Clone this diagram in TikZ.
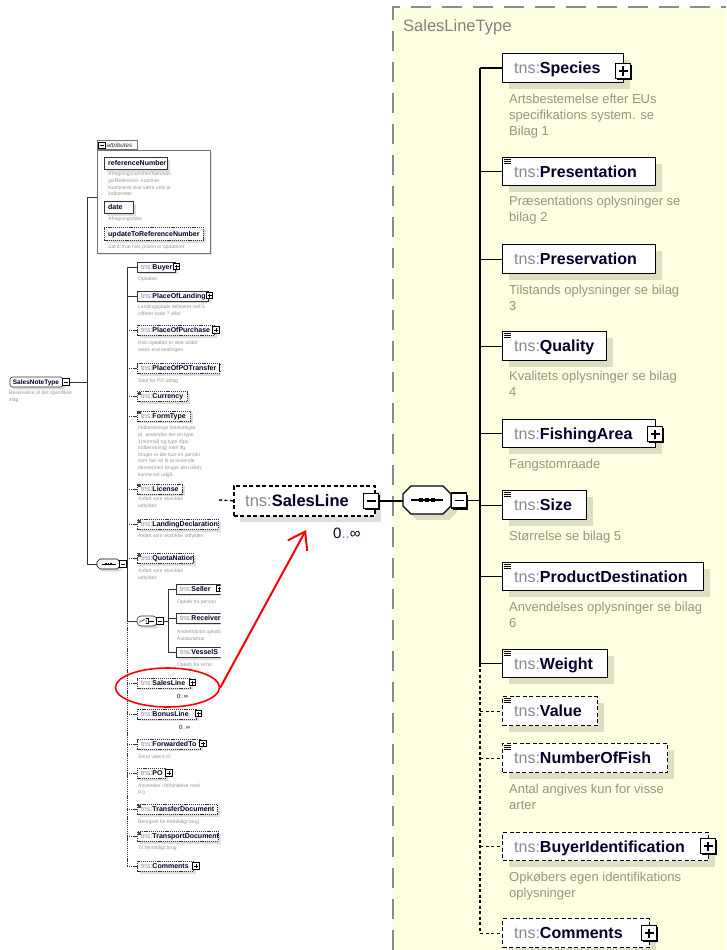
\documentclass[tikz,border=0pt]{standalone}
\usepackage{fontspec}
\setmainfont{Liberation Sans}
\usetikzlibrary{shadows,shapes.geometric,arrows.meta}
\definecolor{tnsc}{RGB}{135,135,150}
\definecolor{namec}{RGB}{0,0,40}
\definecolor{descc}{RGB}{150,150,125}
\definecolor{ldescc}{RGB}{150,150,150}
\definecolor{ybg}{RGB}{255,255,225}
\definecolor{ybord}{RGB}{140,140,140}
\definecolor{titc}{RGB}{128,128,128}
\newcommand\tnsn[1]{\textcolor{tnsc}{tns:}\textcolor{namec}{\textbf{#1}}}
% right element: name,x1,y1,x2,y2,style,label
\newcommand\RE[7]{%
  \node[#6, minimum width={(#4-#2)*1pt}, minimum height={(#5-#3)*1pt}] (#1) at (#2,#3) {};
  \node[rlbl] (#1t) at ([xshift=12pt]#1.west) {\tnsn{#7}};}
\newcommand\RIcon[1]{\draw[line width=0.8pt] ([shift={(2pt,-2pt)}]#1.north west) -- ++(7pt,0pt)
  ([shift={(2pt,-4.3pt)}]#1.north west) -- ++(7pt,0pt) ([shift={(2pt,-6.6pt)}]#1.north west) -- ++(7pt,0pt);}
\newcommand\RPlus[3]{\node[rplus] (#1) at (#2,#3) {};
  \draw[line width=1.3pt] ([xshift=-4.5pt]#1.center) -- ([xshift=4.5pt]#1.center)
  ([yshift=-4.5pt]#1.center) -- ([yshift=4.5pt]#1.center);}
\newcommand\RMinus[3]{\node[rplus] (#1) at (#2,#3) {};
  \draw[line width=1.3pt] ([xshift=-4.5pt]#1.center) -- ([xshift=4.5pt]#1.center);}
% left element
\newcommand\LE[7]{%
  \node[#6, minimum width={(#4-#2)*1pt}, minimum height={(#5-#3)*1pt}] (#1) at (#2,#3) {};
  \node[llbl] (#1t) at ([xshift=4pt]#1.west) {#7};}
\newcommand\LIcon[1]{\draw[line width=0.35pt, black!70] ([shift={(1pt,-0.8pt)}]#1.north west) -- ++(3pt,0pt)
  ([shift={(1pt,-1.8pt)}]#1.north west) -- ++(3pt,0pt) ([shift={(1pt,-2.8pt)}]#1.north west) -- ++(3pt,0pt);}
\newcommand\LPlus[3]{\node[lplus] (#1) at (#2,#3) {};
  \draw[line width=0.5pt] ([xshift=-2pt]#1.center) -- ([xshift=2pt]#1.center)
  ([yshift=-2pt]#1.center) -- ([yshift=2pt]#1.center);}
\newcommand\LMinus[3]{\node[lplus] (#1) at (#2,#3) {};
  \draw[line width=0.5pt] ([xshift=-2pt]#1.center) -- ([xshift=2pt]#1.center);}
\begin{document}
\begin{tikzpicture}[x=1pt,y=-1pt,
 rbox/.style={draw=black, line width=1.3pt, fill=white, anchor=north west, inner sep=0pt,
   drop shadow={shadow xshift=6pt, shadow yshift=-6pt, fill=black, opacity=0.13}},
 rboxd/.style={rbox, dash pattern=on 4pt off 2.5pt},
 rlbl/.style={anchor=west, inner sep=0pt, text height=11.5pt, text depth=0pt, font=\fontsize{16}{18}\selectfont},
 rdesc/.style={anchor=north west, inner sep=0pt, align=left, text=descc, font=\fontsize{13}{16}\selectfont},
 rplus/.style={draw=black, line width=1.4pt, fill=white, minimum size=15pt, inner sep=0pt,
   drop shadow={shadow xshift=1.5pt, shadow yshift=-1.5pt, fill=black, opacity=1}},
 lbox/.style={draw=black!80, line width=0.6pt, fill=white, anchor=north west, inner sep=0pt,
   drop shadow={shadow xshift=2.5pt, shadow yshift=-2.5pt, fill=black, opacity=0.13}},
 lboxd/.style={lbox, dash pattern=on 1.2pt off 0.9pt},
 llbl/.style={anchor=west, inner sep=0pt, text height=5pt, text depth=0pt, font=\fontsize{7}{8}\selectfont},
 ldesc/.style={anchor=north west, inner sep=0pt, align=left, text=ldescc, font=\fontsize{5}{6.6}\selectfont},
 lplus/.style={draw=black, line width=0.6pt, fill=white, minimum size=6.5pt, inner sep=0pt},
 bus/.style={line width=1.3pt, black},
 busd/.style={bus, dash pattern=on 3pt off 2.5pt},
 lbus/.style={line width=0.6pt, black!80},
 lbusd/.style={lbus, dash pattern=on 1.2pt off 0.9pt},
 occ/.style={anchor=west, inner sep=0pt}
]
\useasboundingbox (0,0) rectangle (726,950);
\fill[white] (0,0) rectangle (726,950);
% ---------- SalesLineType area ----------
\fill[ybg] (393,7) rectangle (726,950);
\draw[ybord, line width=1.3pt, dash pattern=on 20pt off 11pt] (393,950) -- (393,7) -- (726,7);
\node[anchor=west, inner sep=0pt, text=titc, font=\fontsize{16.5}{18}\selectfont, text height=11.8pt, text depth=0pt] (sltitle) at (403,26) {SalesLineType};

% sequence (right)
\node[minimum width=48pt, minimum height=28pt, inner sep=0pt] (seqR) at (427,500) {};
\fill[black, opacity=0.13] (417,492)--(449,492)--(457,500)--(457,512)--(449,520)--(417,520)--(409,512)--(409,500)--cycle;
\draw[line width=1.3pt, fill=white] (411,486)--(443,486)--(451,494)--(451,506)--(443,514)--(411,514)--(403,506)--(403,494)--cycle;
\draw[line width=1.2pt] ([xshift=-16pt]seqR.center) -- ([xshift=16pt]seqR.center);
\foreach \dx in {-6,0,6} \fill ([xshift=\dx pt]seqR.center) +(-2pt,-2pt) rectangle +(2pt,2pt);
\RMinus{seqRm}{459}{500.5}

% children (right)
\RE{species}{502}{53}{623}{82}{rbox}{Species}
\RPlus{speciesp}{623}{71}
\node[rdesc] (speciesd) at (509,92.2) {\strut Artsbestemelse efter EUs\\specifikations system. se\\Bilag 1};

\RE{pres}{502}{157}{655}{185}{rbox}{Presentation}\RIcon{pres}
\node[rdesc] (presd) at (509,194.2) {\strut Præsentations oplysninger se\\bilag 2};

\RE{presv}{502}{244}{655}{273}{rbox}{Preservation}
\node[rdesc] (presvd) at (509,283.2) {\strut Tilstands oplysninger se bilag\\3};

\RE{qual}{502}{331}{606}{360}{rbox}{Quality}\RIcon{qual}
\node[rdesc] (quald) at (509,369.2) {\strut Kvalitets oplysninger se bilag\\4};

\RE{fish}{502}{419}{655}{447}{rbox}{FishingArea}
\RPlus{fishp}{655}{434}
\node[rdesc] (fishd) at (509,457.2) {\strut Fangstomraade};

\RE{size}{502}{490}{586}{519}{rbox}{Size}\RIcon{size}
\node[rdesc] (sized) at (509,529.2) {\strut Størrelse se bilag 5};

\RE{prod}{502}{562}{703}{590}{rbox}{ProductDestination}\RIcon{prod}
\node[rdesc] (prodd) at (509,600.2) {\strut Anvendelses oplysninger se bilag\\6};

\RE{weight}{502}{649}{607}{677}{rbox}{Weight}\RIcon{weight}

\RE{value}{502}{696}{597}{725}{rboxd}{Value}\RIcon{value}

\RE{nof}{502}{743}{667}{772}{rboxd}{NumberOfFish}\RIcon{nof}
\node[rdesc] (nofd) at (509,782.2) {\strut Antal angives kun for visse\\arter};

\RE{buyid}{502}{832}{708}{860}{rboxd}{BuyerIdentification}
\RPlus{buyidp}{708}{846}
\node[rdesc] (buyidd) at (509,870.2) {\strut Opkøbers egen identifikations\\oplysninger};

\RE{comR}{502}{918}{649}{947}{rboxd}{Comments}
\RPlus{comRp}{649}{933}

% right bus
\coordinate (rbx) at (480,0);
\draw[bus] (seqRm.east) -- (seqRm.east -| rbx);
\draw[bus] (species.west -| rbx) -- (weight.west -| rbx);
\draw[busd] (weight.west -| rbx) -- (comR.west -| rbx);
\foreach \n in {species,pres,presv,qual,fish,size,prod,weight}
  \draw[bus] (\n.west -| rbx) -- (\n.west);
\foreach \n in {value,nof,buyid,comR}
  \draw[busd] (\n.west -| rbx) -- (\n.west);

% ---------- big SalesLine ----------
\node[rboxd, line width=1.5pt, minimum width=141pt, minimum height=30pt] (bigSL) at (233,485) {};
\node[anchor=west, inner sep=0pt, text height=12pt, text depth=0pt, font=\fontsize{16.5}{18}\selectfont] (bigSLt) at ([xshift=12pt]bigSL.west) {\tnsn{SalesLine}};
\RMinus{bigSLm}{371}{501}
\node[occ, font=\fontsize{15}{16}\selectfont] (bigocc) at (333,533) {\textcolor{namec}{0}\textcolor{tnsc}{..}\textcolor{namec}{∞}};
\coordinate (slIn) at (219,500);
\draw[busd] (slIn) -- (bigSL.west);
\draw[bus] (bigSLm.east) -- (bigSLm.east -| seqR.west);

% ---------- left overview ----------
\begin{scope}
\clip (0,0) rectangle (220.5,950);
% attributes
\node[draw=black!55, line width=0.6pt, fill=white, anchor=north west, minimum width=113pt, minimum height=103pt, inner sep=0pt,
  drop shadow={shadow xshift=2pt, shadow yshift=-2pt, fill=black, opacity=0.1}] (attr) at (97,150) {};
\node[draw=black!55, line width=0.6pt, fill=white, anchor=south west, minimum width=40pt, minimum height=9pt, inner sep=0pt] (attrtab) at (attr.north west) {};
\LMinus{attrm}{102}{145.5}
\node[anchor=west, inner sep=0pt, font=\fontsize{6.2}{7}\itshape, text=black!80] (attrt) at (106.5,145.5) {attributes};

\LE{refn}{104}{157}{167}{169}{lbox}{\textcolor{namec}{\textbf{referenceNumber}}}
\node[ldesc] (refnd) at (108,171.1) {\strut Afregningsnummer/fakturein\\gs/Reference- nummer.\\Nummeret skal være unik pr\\ indberetter};
\LE{datea}{104}{201}{133}{213}{lbox}{\textcolor{namec}{\textbf{date}}}
\node[ldesc] (dated) at (108,216.1) {\strut Afregningsdato};
\LE{upd}{104}{227}{203}{240}{lboxd}{\textcolor{namec}{\textbf{updateToReferenceNumber}}}
\node[ldesc] (updd) at (108,244.1) {\strut Sat til true hvis prisen er opdateret};

% SalesNoteType
\node[draw=black!80, line width=0.6pt, fill=white, rounded corners=2.5pt, minimum width=53pt, minimum height=10pt, inner sep=0pt,
  drop shadow={shadow xshift=2.5pt, shadow yshift=-2.5pt, fill=black, opacity=0.13}] (snt) at (36.5,382) {};
\node[llbl, font=\fontsize{6.5}{7}\selectfont] (sntt) at ([xshift=3pt]snt.west) {\textcolor{namec}{\textbf{SalesNoteType}}};
\LMinus{sntm}{66}{382}
\node[ldesc] (sntd) at (9,390.1) {\strut Beskrivelse af det specifikke\\slag};

% left sequence
\node[minimum width=23pt, minimum height=10pt, inner sep=0pt] (seqL) at (108.5,564) {};
\fill[black, opacity=0.13] (102.5,561.5)--(119.5,561.5)--(122.5,564.5)--(122.5,568.5)--(119.5,571.5)--(102.5,571.5)--(99.5,568.5)--(99.5,564.5)--cycle;
\draw[line width=0.6pt, fill=white] (100,559)--(117,559)--(120,562)--(120,566)--(117,569)--(100,569)--(97,566)--(97,562)--cycle;
\draw[line width=0.5pt] ([xshift=-7pt]seqL.center) -- ([xshift=7pt]seqL.center);
\foreach \dx in {-2.6,0,2.6} \fill ([xshift=\dx pt]seqL.center) +(-0.8pt,-0.8pt) rectangle +(0.8pt,0.8pt);
\LMinus{seqLm}{123}{564}

\coordinate (lvx) at (87,0);
\coordinate (attrIn) at (87,197);
\draw[lbus] (attrIn) -- (attrIn -| attr.west);
\draw[lbus] (attrIn) -- (seqL.west -| lvx) -- (seqL.west);
\draw[lbus] (sntm.east) -- (sntm.east -| lvx);

% left children
\LE{buyer}{137}{261.5}{175}{271.5}{lbox}{\tnsn{Buyer}}\LPlus{buyerp}{176.5}{266.5}
\node[ldesc] (buyerd) at (138,276.1) {\strut Opkøber};
\LE{pol}{137}{290.5}{208}{300.5}{lbox}{\tnsn{PlaceOfLanding}}\LPlus{polp}{209.5}{295.5}
\node[ldesc] (pold) at (138,304.1) {\strut Landingsplads defineret ved 5\\cifferet kode ? eller};
\LE{pop}{137}{325}{214}{335}{lboxd}{\tnsn{PlaceOfPurchase}}\LPlus{popp}{216}{330}
\node[ldesc] (popd) at (138,340.1) {\strut Hvis opkøbet er sket  andet\\steds end landingen};
\LE{popt}{137}{363}{226}{373}{lboxd}{\tnsn{PlaceOfPOTransfer}}\LPlus{poptp}{223}{368}
\node[ldesc] (poptd) at (138,378.1) {\strut Sted for PO udtag};
\LE{cur}{137}{391}{187}{401}{lboxd}{\tnsn{Currency}}\LIcon{cur}
\LE{form}{137}{410.5}{190}{420.5}{lboxd}{\tnsn{FormType}}\LIcon{form}
\node[ldesc] (formd) at (138,425.1) {\strut Indberetnings blankettype,\\pt. anvendes der en type\\1(normal) og type 4(po\\indberetning) men ifg.\\bruger er der kun en person\\som har ret til at anvende\\denne(men bruger den ikke),\\kunne evt udgå.};
\LE{lic}{137}{483.5}{182}{493.5}{lboxd}{\tnsn{License}}\LIcon{lic}
\node[ldesc] (licd) at (138,496.1) {\strut Anført som skal ikke\\udfyldes};
\LE{ldec}{137}{519}{218}{529}{lboxd}{\tnsn{LandingDeclaration}}\LIcon{ldec}
\node[ldesc] (ldecd) at (138,533.1) {\strut Anført som skal ikke udfyldes};
\LE{quota}{137}{553}{193}{563}{lboxd}{\tnsn{QuotaNation}}\LIcon{quota}
\node[ldesc] (quotad) at (138,568.1) {\strut Anført som skal ikke\\udfyldes};

% choice
\node[draw=black!80, line width=0.6pt, fill=white, rounded corners=4pt, minimum width=20pt, minimum height=10pt, inner sep=0pt,
  drop shadow={shadow xshift=2.5pt, shadow yshift=-2.5pt, fill=black, opacity=0.13}] (chc) at (147,621) {};
\draw[line width=0.5pt] ([xshift=2.5pt]chc.west) -- ([xshift=5.5pt]chc.west) -- ([shift={(8pt,2pt)}]chc.west);
\foreach \dy in {-2.5,0,2.5} \fill ([shift={(9.5pt,\dy pt)}]chc.west) circle (0.6pt);
\draw[line width=0.5pt] ([shift={(9.5pt,2.5pt)}]chc.west) -- ([shift={(12pt,2.5pt)}]chc.west) -- ([shift={(12pt,-2.5pt)}]chc.west) -- ([shift={(9.5pt,-2.5pt)}]chc.west)
  ([xshift=12pt]chc.west) -- ([xshift=17pt]chc.west);
\LMinus{chcm}{160}{621}
\coordinate (cbx) at (168,0);
\LE{seller}{176}{583.5}{232}{593.5}{lbox}{\tnsn{Seller}}\LPlus{sellerp}{219.5}{588.5}
\node[ldesc] (sellerd) at (177,599.1) {\strut Opkøb fra person};
\LE{recv}{176}{612.5}{232}{622.5}{lbox}{\tnsn{Receiver}}
\node[ldesc] (recvd) at (177,629.1) {\strut Andenhånds opkøb\\Auktionshus};
\LE{vess}{176}{647}{232}{657}{lbox}{\tnsn{VesselS}}
\node[ldesc] (vessd) at (177,662.1) {\strut Opkøb fra et far};
\draw[lbus] (chcm.east) -- (chcm.east -| cbx);
\draw[lbus] (seller.west -| cbx) -- (vess.west -| cbx);
\foreach \n in {seller,recv,vess} \draw[lbus] (\n.west -| cbx) -- (\n.west);

\LE{saleL}{137}{677.5}{190}{687.5}{lboxd}{\tnsn{SalesLine}}\LPlus{saleLp}{192.5}{682.5}
\node[occ, font=\fontsize{6}{7}\selectfont] (saleLo) at (177,696) {\textcolor{namec}{0}\textcolor{tnsc}{..}\textcolor{namec}{∞}};
\LE{bonus}{137}{708.5}{196}{718.5}{lboxd}{\tnsn{BonusLine}}\LPlus{bonusp}{198.5}{713.5}
\node[occ, font=\fontsize{6}{7}\selectfont] (bonuso) at (179,727) {\textcolor{namec}{0}\textcolor{tnsc}{..}\textcolor{namec}{∞}};
\LE{fwd}{137}{738.5}{200}{748.5}{lboxd}{\tnsn{ForwardedTo}}\LPlus{fwdp}{203}{743.5}
\node[ldesc] (fwdd) at (138,754.1) {\strut Send videre til};
\LE{po}{137}{768}{165}{778}{lboxd}{\tnsn{PO}}\LPlus{pop2}{169}{773}
\node[ldesc] (pod) at (138,783.1) {\strut Anvendes i forbindelse med\\PO};
\LE{trf}{137}{804}{217}{814}{lboxd}{\tnsn{TransferDocument}}\LIcon{trf}
\node[ldesc] (trfd) at (138,819.1) {\strut Beregnet for fremtidigt brug};
\LE{trp}{137}{831}{218}{841}{lboxd}{\tnsn{TransportDocument}}\LIcon{trp}
\node[ldesc] (trpd) at (138,845.1) {\strut Til fremtidigt brug};
\LE{comL}{137}{861}{193}{871}{lboxd}{\tnsn{Comments}}\LPlus{comLp}{196}{866}

% left bus
\coordinate (lbx) at (127,0);
\draw[lbus] (seqLm.east) -- (seqLm.east -| lbx);
\draw[lbus] (buyer.west -| lbx) -- (chc.west -| lbx);
\draw[lbusd] (chc.west -| lbx) -- (comL.west -| lbx);
\foreach \n in {buyer,pol,chc} \draw[lbus] (\n.west -| lbx) -- (\n.west);
\foreach \n in {pop,popt,cur,form,lic,ldec,quota,saleL,bonus,fwd,po,trf,trp,comL} \draw[lbusd] (\n.west -| lbx) -- (\n.west);
\end{scope}

% ---------- red highlight ----------
\node[draw=red, line width=1.6pt, ellipse, minimum width=104pt, minimum height=39pt, inner sep=0pt] (ring) at (167.5,687.5) {};
\coordinate (tip) at (306,530);
\draw[red, line width=2pt, -{Straight Barb[length=16pt,width=22pt]}] (ring.east) -- (tip);
\end{tikzpicture}
\end{document}
